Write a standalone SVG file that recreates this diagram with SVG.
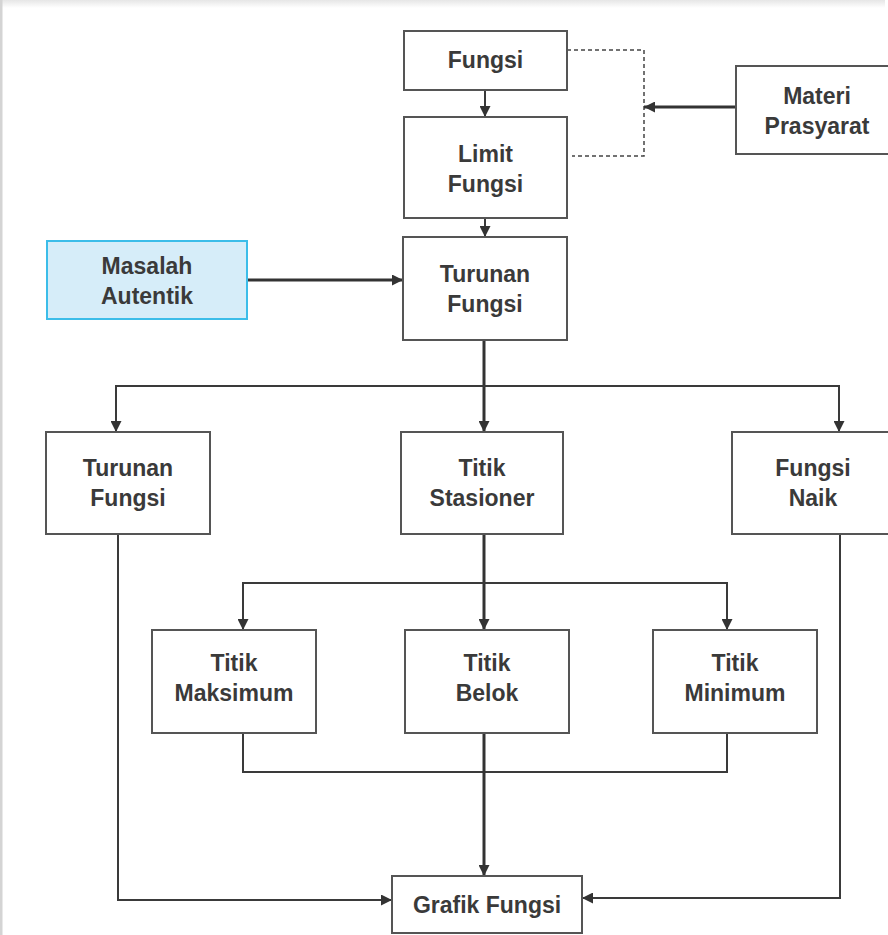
<svg xmlns="http://www.w3.org/2000/svg" width="888" height="935" viewBox="0 0 888 935">
  <defs>
    <linearGradient id="topfade" x1="0" y1="0" x2="0" y2="1">
      <stop offset="0" stop-color="#e6e6e6"/>
      <stop offset="1" stop-color="#ffffff"/>
    </linearGradient>
    <marker id="ah" viewBox="0 0 10 10" refX="10" refY="5" markerWidth="11" markerHeight="11" markerUnits="userSpaceOnUse" orient="auto">
      <path d="M0,0 L10,5 L0,10 Z" fill="#333"/>
    </marker>
  </defs>
  <style>
    .box { fill: #ffffff; stroke: #555555; stroke-width: 2; }
    .blue { fill: #d6edf9; stroke: #3cbde9; stroke-width: 2; }
    .t { font-family: "Liberation Sans", Arial, sans-serif; font-weight: bold; font-size: 23px; fill: #3a3a3a; text-anchor: middle; }
    .ln { fill: none; stroke: #3a3a3a; stroke-width: 2; }
    .thick { fill: none; stroke: #333333; stroke-width: 3; }
    .dash { fill: none; stroke: #444444; stroke-width: 1.5; stroke-dasharray: 4 3; }
  </style>
  <rect x="0" y="0" width="888" height="935" fill="#ffffff"/>
  <rect x="0" y="0" width="885" height="8" fill="url(#topfade)"/>
  <rect x="0" y="0" width="2.5" height="935" fill="#d4d4d4"/>

  <g id="connectors">
    <line class="ln" x1="485" y1="90" x2="485" y2="117" marker-end="url(#ah)"/>
    <line class="ln" x1="485" y1="218" x2="485" y2="237" marker-end="url(#ah)"/>
    <path class="dash" d="M567,50 H644 V156 H572"/>
    <line class="thick" x1="736" y1="107" x2="644" y2="107" marker-end="url(#ah)"/>
    <line class="thick" x1="247" y1="280" x2="403" y2="280" marker-end="url(#ah)"/>
    <line class="thick" x1="484" y1="340" x2="484" y2="432" marker-end="url(#ah)"/>
    <path class="ln" d="M484,386 H116 V432" marker-end="url(#ah)"/>
    <path class="ln" d="M484,386 H839 V432" marker-end="url(#ah)"/>
    <line class="thick" x1="484" y1="534" x2="484" y2="630" marker-end="url(#ah)"/>
    <path class="ln" d="M484,583 H243 V630" marker-end="url(#ah)"/>
    <path class="ln" d="M484,583 H727 V630" marker-end="url(#ah)"/>
    <path class="ln" d="M243,733 V772 H727 V733"/>
    <line class="thick" x1="484" y1="733" x2="484" y2="876" marker-end="url(#ah)"/>
    <path class="ln" d="M118,534 V900 H392" marker-end="url(#ah)"/>
    <path class="ln" d="M840,534 V898 H582" marker-end="url(#ah)"/>
  </g>

  <g id="fungsi">
    <rect class="box" x="404" y="31" width="163" height="59"/>
    <text class="t" x="485.5" y="68">Fungsi</text>
  </g>
  <g id="limit-fungsi">
    <rect class="box" x="404" y="117" width="163" height="101"/>
    <text class="t" x="485.5" y="162">Limit</text>
    <text class="t" x="485.5" y="192">Fungsi</text>
  </g>
  <g id="materi-prasyarat">
    <rect class="box" x="736" y="66" width="163" height="88"/>
    <text class="t" x="817" y="104">Materi</text>
    <text class="t" x="817" y="134">Prasyarat</text>
  </g>
  <g id="masalah-autentik">
    <rect class="blue" x="47" y="241" width="200" height="78"/>
    <text class="t" x="147" y="274">Masalah</text>
    <text class="t" x="147" y="304">Autentik</text>
  </g>
  <g id="turunan-fungsi-top">
    <rect class="box" x="403" y="237" width="164" height="103"/>
    <text class="t" x="485" y="282">Turunan</text>
    <text class="t" x="485" y="312">Fungsi</text>
  </g>
  <g id="turunan-fungsi">
    <rect class="box" x="46" y="432" width="164" height="102"/>
    <text class="t" x="128" y="476">Turunan</text>
    <text class="t" x="128" y="506">Fungsi</text>
  </g>
  <g id="titik-stasioner">
    <rect class="box" x="401" y="432" width="162" height="102"/>
    <text class="t" x="482" y="476">Titik</text>
    <text class="t" x="482" y="506">Stasioner</text>
  </g>
  <g id="fungsi-naik">
    <rect class="box" x="732" y="432" width="163" height="102"/>
    <text class="t" x="813" y="476">Fungsi</text>
    <text class="t" x="813" y="506">Naik</text>
  </g>
  <g id="titik-maksimum">
    <rect class="box" x="152" y="630" width="164" height="103"/>
    <text class="t" x="234" y="671">Titik</text>
    <text class="t" x="234" y="701">Maksimum</text>
  </g>
  <g id="titik-belok">
    <rect class="box" x="405" y="630" width="164" height="103"/>
    <text class="t" x="487" y="671">Titik</text>
    <text class="t" x="487" y="701">Belok</text>
  </g>
  <g id="titik-minimum">
    <rect class="box" x="653" y="630" width="164" height="103"/>
    <text class="t" x="735" y="671">Titik</text>
    <text class="t" x="735" y="701">Minimum</text>
  </g>
  <g id="grafik-fungsi">
    <rect class="box" x="392" y="876" width="190" height="57"/>
    <text class="t" x="487" y="913">Grafik Fungsi</text>
  </g>
</svg>
